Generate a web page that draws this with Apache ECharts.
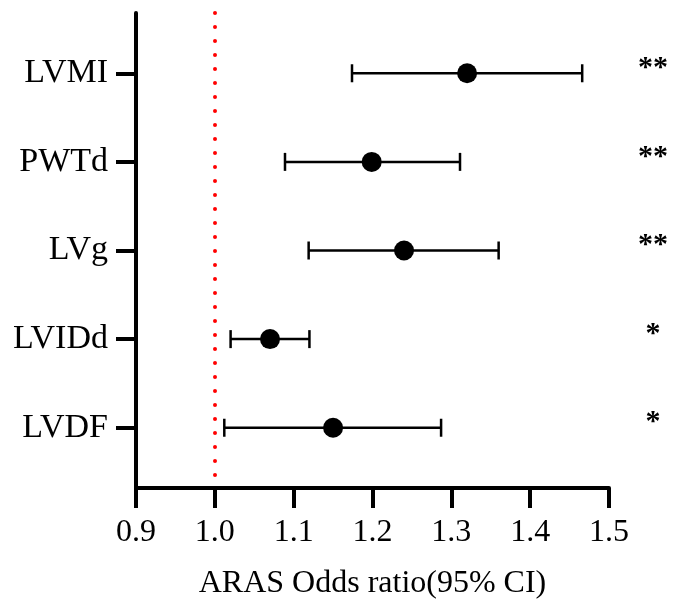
<!DOCTYPE html>
<html>
<head>
<meta charset="utf-8">
<title>Forest plot</title>
<script src="https://cdn.jsdelivr.net/npm/echarts@6/dist/echarts.min.js"></script>
</head>
<body style="margin:0;background:#fff">
<div id="main" style="width:678px;height:600px"></div>
<script>
// rows, top to bottom
var names = ['LVMI', 'PWTd', 'LVg', 'LVIDd', 'LVDF'];
var oddsRatio = [1.320, 1.199, 1.240, 1.070, 1.150];
var ciLow = [1.174, 1.089, 1.119, 1.020, 1.012];
var ciHigh = [1.466, 1.311, 1.360, 1.120, 1.287];
var stars = ['**', '**', '**', '*', '*'];
var refLine = 1.0;

var rowPos = names.map(function (n, i) { return i + 1; });
var serif = 'Liberation Serif';

var myChart = echarts.init(document.getElementById('main'));

myChart.setOption({
    backgroundColor: '#fff',
    animation: false,
    grid: { left: 136, right: 69, top: 13, bottom: 112, outerBoundsMode: 'none' },
    xAxis: {
        type: 'value',
        min: 0.9,
        max: 1.5,
        interval: 0.1,
        name: 'ARAS Odds ratio(95% CI)',
        nameLocation: 'middle',
        nameGap: 80,
        nameTextStyle: { fontFamily: serif, fontSize: 32, color: '#000' },
        axisLine: { onZero: false, lineStyle: { color: '#000', width: 4 } },
        axisTick: { length: 20, lineStyle: { color: '#000', width: 4 } },
        axisLabel: {
            margin: 29,
            fontFamily: serif, fontSize: 32, color: '#000',
            formatter: function (v) { return v.toFixed(1); }
        },
        splitLine: { show: false }
    },
    yAxis: [{
        type: 'value',
        inverse: true,
        min: 0.32,
        max: 5.68,
        axisLine: { show: true, lineStyle: { color: '#000', width: 4 } },
        axisTick: { show: true, length: 20, customValues: rowPos, lineStyle: { color: '#000', width: 4 } },
        axisLabel: {
            customValues: rowPos,
            margin: 28,
            fontFamily: serif, fontSize: 34, color: '#000',
            formatter: function (v) { return names[Math.round(v) - 1]; }
        },
        splitLine: { show: false }
    }, {
        // significance marks on the right
        type: 'value',
        position: 'right',
        inverse: true,
        min: 0.32,
        max: 5.68,
        axisLine: { show: false },
        axisTick: { show: false },
        axisLabel: {
            customValues: rowPos,
            margin: 44,
            align: 'center',
            verticalAlign: 'bottom',
            lineHeight: 10,
            fontFamily: serif, fontSize: 30, fontWeight: 'bold', color: '#000',
            formatter: function (v) { return stars[Math.round(v) - 1]; }
        },
        splitLine: { show: false }
    }],
    series: [{
        type: 'custom',
        data: names.map(function (n, i) { return [i + 1, ciLow[i], ciHigh[i]]; }),
        encode: { x: [1, 2], y: 0 },
        renderItem: function (params, api) {
            var y = api.value(0);
            var a = api.coord([api.value(1), y]);
            var b = api.coord([api.value(2), y]);
            var h = 9;
            var st = { stroke: '#000', lineWidth: 2.5 };
            return {
                type: 'group',
                children: [
                    { type: 'line', shape: { x1: a[0], y1: a[1], x2: b[0], y2: b[1] }, style: st },
                    { type: 'line', shape: { x1: a[0], y1: a[1] - h, x2: a[0], y2: a[1] + h }, style: st },
                    { type: 'line', shape: { x1: b[0], y1: b[1] - h, x2: b[0], y2: b[1] + h }, style: st }
                ]
            };
        }
    }, {
        type: 'scatter',
        data: names.map(function (n, i) { return [oddsRatio[i], i + 1]; }),
        symbol: 'circle',
        symbolSize: 20,
        itemStyle: { color: '#000', opacity: 1 },
        z: 5,
        markLine: {
            silent: true,
            symbol: 'none',
            label: { show: false },
            lineStyle: { color: '#f00', width: 4, type: [0, 14], cap: 'round', opacity: 1 },
            data: [{ xAxis: refLine }]
        }
    }]
});
</script>
</body>
</html>
